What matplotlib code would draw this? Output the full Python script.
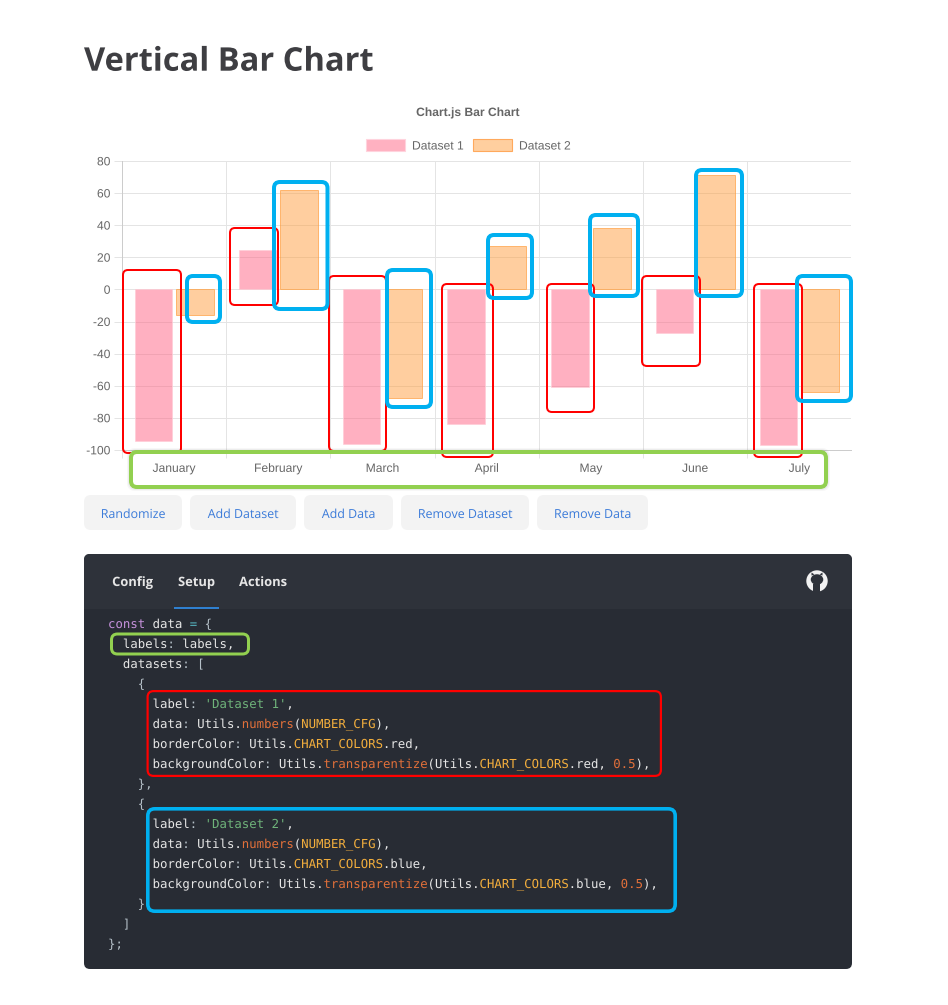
import matplotlib
matplotlib.use("Agg")
import matplotlib.pyplot as plt
import matplotlib.patheffects as pe
from matplotlib.patches import FancyBboxPatch, Rectangle, Circle, Ellipse, Polygon

plt.rcParams["axes.unicode_minus"] = False
plt.rcParams["text.hinting"] = "no_hinting"


class NoSnap(pe.AbstractPathEffect):
    def draw_path(self, renderer, gc, tpath, affine, rgbFace=None):
        gc.set_snap(False)
        renderer.draw_path(gc, tpath, affine, rgbFace)


TEXT_FX = [NoSnap()]

months = ["January", "February", "March", "April", "May", "June", "July"]
dataset_1 = [-94.5, 24.5, -96, -83.5, -61, -27, -97]
dataset_2 = [-16, 62, -67.5, 27, 38, 71, -64]
y_ticks = [80, 60, 40, 20, 0, -20, -40, -60, -80, -100]
button_labels = ["Randomize", "Add Dataset", "Add Data", "Remove Dataset", "Remove Data"]
tab_labels = ["Config", "Setup", "Actions"]

W, H = 948, 1005
PX = 0.72
fig = plt.figure(figsize=(W / 100, H / 100), dpi=100, facecolor="white")

# ---- chart
L, R, T, B = 122, 851.5, 161, 450
ax = fig.add_axes([L / W, 1 - B / H, (R - L) / W, (B - T) / H], zorder=1)
GRID = "#e4e4e4"
x = list(range(len(months)))
ax.bar([i - 0.2 for i in x], dataset_1, 0.36, facecolor=(1, 0.388, 0.518, 0.5),
       edgecolor=(1, 0.8, 0.84, 0.7), linewidth=0.7, zorder=3, label="Dataset 1")
ax.bar([i + 0.2 for i in x], dataset_2, 0.36, facecolor=(1, 0.624, 0.251, 0.5),
       edgecolor=(1, 0.624, 0.251, 0.7), linewidth=0.7, zorder=3, label="Dataset 2")
ax.set_xlim(-0.5, 6.5)
ax.set_ylim(-100, 80)
ax.set_yticks(y_ticks)
ax.set_xticks(x)
ax.set_xticklabels(months)
ax.set_xticks([i - 0.5 for i in x] + [6.5], minor=True)
ax.grid(True, which="major", axis="y", color=GRID, linewidth=0.72, zorder=0)
ax.grid(True, which="minor", axis="x", color=GRID, linewidth=0.72, zorder=0)
ax.tick_params(axis="x", which="major", length=0, pad=9.5, labelsize=8.7, labelcolor="#666666",
               labelfontfamily="Liberation Sans")
ax.tick_params(axis="x", which="minor", length=5.8, color=GRID, width=0.72)
ax.tick_params(axis="y", length=5.8, color=GRID, width=0.72, pad=2.5, labelsize=8.7,
               labelcolor="#666666", labelfontfamily="Liberation Sans")
for s in ["top", "right"]:
    ax.spines[s].set_visible(False)
for s in ["left", "bottom"]:
    ax.spines[s].set_color("#cccccc")
    ax.spines[s].set_linewidth(0.72)
ax.xaxis.get_minor_ticks()[-1].tick1line.set_visible(False)
ax.xaxis.get_minor_ticks()[-1].gridline.set_visible(False)
fig.canvas.draw()
for lab in ax.get_xticklabels() + ax.get_yticklabels():
    lab.set_path_effects(TEXT_FX)

# ---- page overlay in pixel coordinates
ov = fig.add_axes([0, 0, 1, 1], zorder=0)
ov.set_xlim(0, W)
ov.set_ylim(H, 0)
ov.axis("off")
top = fig.add_axes([0, 0, 1, 1], zorder=2)
top.set_xlim(0, W)
top.set_ylim(H, 0)
top.axis("off")
top.patch.set_alpha(0)


def rbox(a, x0, y0, x1, y1, r=3, fc="none", ec="none", lw=0.0, z=2, alpha=None):
    a.add_patch(FancyBboxPatch((x0, y0), x1 - x0, y1 - y0,
                               boxstyle=f"round,pad=0,rounding_size={r}",
                               fc=fc, ec=ec, lw=lw * PX, zorder=z, alpha=alpha))


def outline(a, box, color, px, r=5, z=6):
    x0, y0, x1, y1 = box
    h = px / 2
    rbox(a, x0 + h, y0 + h, x1 - h, y1 - h, r=r, ec=color, lw=px, z=z)


def label(x0, y0, s, **kw):
    ov.text(x0, y0, s, va="baseline", path_effects=TEXT_FX, **kw)


label(84, 70.7, "Vertical Bar Chart", fontsize=23.5, fontweight="bold", color="#3e3e42",
      family="Open Sans", ha="left")
label(468, 116, "Chart.js Bar Chart", fontsize=8.7, fontweight="bold", color="#666666",
      family="Liberation Sans", ha="center")

# legend
ov.add_patch(Rectangle((366.5, 139), 39, 12, fc="#ffb1c1", ec="#ffd3dd", lw=0.8))
label(412, 149.5, "Dataset 1", fontsize=8.7, color="#666666", family="Liberation Sans")
ov.add_patch(Rectangle((473.5, 139), 39, 12, fc="#ffcf9f", ec="#ffa95c", lw=0.8))
label(519, 149.5, "Dataset 2", fontsize=8.7, color="#666666", family="Liberation Sans")

# buttons
btn_x = [(84, 182), (190, 296), (304, 393), (401, 529), (537, 648)]
for (x0, x1), lab in zip(btn_x, button_labels):
    rbox(ov, x0, 495, x1, 530, r=7, fc="#f3f3f3")
    label((x0 + x1) / 2, 518, lab, fontsize=8.95, color="#3b7bd9", family="Open Sans",
          ha="center", fontweight="medium")

# code panel
PANEL = "#282c34"
rbox(ov, 84, 554, 852, 969, r=6, fc=PANEL)
rbox(ov, 84, 554, 852, 609, r=6, fc="#2e323a")
ov.add_patch(Rectangle((84, 600), 768, 9, fc="#2e323a", ec="none", zorder=2))
for lab, cx in zip(tab_labels, [132.5, 196.5, 263]):
    label(cx, 586, lab, fontsize=9.3, fontweight="bold", color="#e6e6e6", family="Open Sans",
          ha="center", zorder=3)
ov.add_patch(Rectangle((174, 606.5), 45, 2, fc="#2f80d0", ec="none", zorder=3))
ov.add_patch(Circle((817, 581), 10.7, fc="#f2f2f2", ec="none", zorder=3))
ov.add_patch(Ellipse((817, 579.5), 12.5, 10.5, fc="#2e323a", ec="none", zorder=4))
ov.add_patch(Polygon([(811.5, 575.5), (811.5, 572.5), (814.5, 574.5)], fc="#2e323a", zorder=4))
ov.add_patch(Polygon([(822.5, 575.5), (822.5, 572.5), (819.5, 574.5)], fc="#2e323a", zorder=4))
ov.add_patch(Rectangle((813.5, 584), 7, 8, fc="#2e323a", ec="none", zorder=4))

BASE = "#e6e6e6"
PUNC = "#b5c0c8"
PUR = "#c792dd"
STR = "#6fb37a"
FUNC = "#e2703a"
CONST = "#f2ae3d"
NUM = "#e2703a"
code = [
    (628, 0, [("const", PUR), (" data ", BASE), ("=", "#56b6c2"), (" {", PUNC)]),
    (648, 2, [("labels", BASE), (":", PUNC), (" labels,", BASE)]),
    (668, 2, [("datasets", BASE), (":", PUNC), (" [", PUNC)]),
    (688, 4, [("{", PUNC)]),
    (708, 6, [("label", BASE), (":", PUNC), (" ", BASE), ("'Dataset 1'", STR), (",", BASE)]),
    (728, 6, [("data", BASE), (":", PUNC), (" Utils.", BASE), ("numbers", FUNC), ("(", BASE),
              ("NUMBER_CFG", CONST), ("),", BASE)]),
    (748, 6, [("borderColor", BASE), (":", PUNC), (" Utils.", BASE), ("CHART_COLORS", CONST),
              (".red,", BASE)]),
    (768, 6, [("backgroundColor", BASE), (":", PUNC), (" Utils.", BASE), ("transparentize", FUNC),
              ("(Utils.", BASE), ("CHART_COLORS", CONST), (".red, ", BASE), ("0.5", NUM), ("),", BASE)]),
    (788, 4, [("},", PUNC)]),
    (808, 4, [("{", PUNC)]),
    (828, 6, [("label", BASE), (":", PUNC), (" ", BASE), ("'Dataset 2'", STR), (",", BASE)]),
    (848, 6, [("data", BASE), (":", PUNC), (" Utils.", BASE), ("numbers", FUNC), ("(", BASE),
              ("NUMBER_CFG", CONST), ("),", BASE)]),
    (868, 6, [("borderColor", BASE), (":", PUNC), (" Utils.", BASE), ("CHART_COLORS", CONST),
              (".blue,", BASE)]),
    (888, 6, [("backgroundColor", BASE), (":", PUNC), (" Utils.", BASE), ("transparentize", FUNC),
              ("(Utils.", BASE), ("CHART_COLORS", CONST), (".blue, ", BASE), ("0.5", NUM), ("),", BASE)]),
    (908, 4, [("}", PUNC)]),
    (928, 2, [("]", PUNC)]),
    (948, 0, [("};", PUNC)]),
]
ADV = 7.43
X0 = 108
for y, indent, toks in code:
    n = indent
    for s, c in toks:
        label(X0 + n * ADV, y, s, fontsize=8.9, color=c, family="DejaVu Sans Mono",
              ha="left", zorder=5)
        n += len(s)

# ---- callout boxes
RED = "#ff0000"
BLUE = "#00b0f0"
GREEN = "#92d050"
red_boxes = [(122, 269, 182, 454), (229, 227, 279, 306), (328, 275, 387, 452), (441, 283, 494, 458),
             (546, 283, 595, 413), (641, 275, 701, 367), (753, 283, 803, 458)]
blue_boxes = [(185, 274, 222, 324), (272, 180, 329.5, 311), (385, 268, 433, 409), (486, 233, 534, 300),
              (588, 213, 640, 298), (694, 168, 744, 298), (795, 274, 853, 403)]
for b in red_boxes:
    outline(top, b, RED, 2)
for b in blue_boxes:
    outline(top, b, BLUE, 4, r=6)
for grow, al in [(2, 0.04), (1, 0.06)]:
    rbox(top, 129 - grow + 2, 450 - grow + 2, 828 + grow - 2, 489 + grow - 2, r=6, ec="#444444", lw=4, z=6.5, alpha=al)
outline(top, (129, 450, 828, 489), GREEN, 4, r=6, z=7)
outline(top, (110, 632.5, 250, 655.5), GREEN, 3, r=6, z=7)
outline(top, (146.5, 690, 662, 777), RED, 2.2, r=6, z=7)
outline(top, (146, 807, 677, 913), BLUE, 3.6, r=7, z=7)

fig.savefig("out.png", dpi=100, facecolor="white")
